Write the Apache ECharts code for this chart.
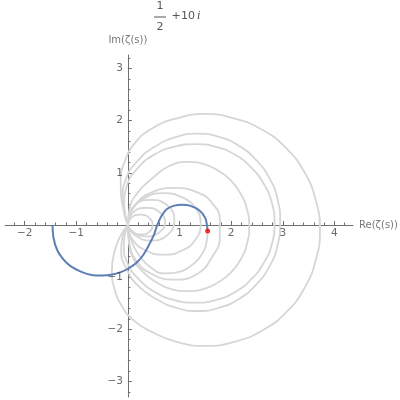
<!DOCTYPE html>
<html><head><meta charset="utf-8">
<script src="https://cdn.jsdelivr.net/npm/echarts@6/dist/echarts.min.js"></script>
<style>html,body{margin:0;padding:0;background:#fff}#c{width:400px;height:400px}</style>
</head><body><div id="c"></div>
<script>
// Blue path: zeta(1/2 + i t), t from 0 to 10
const bluePath = [[-1.46,0],[-1.44,-0.25],[-1.37,-0.48],[-1.25,-0.66],[-1.11,-0.79],[-0.9,-0.9],[-0.7,-0.96],[-0.5,-0.97],[-0.3,-0.95],[-0.1,-0.89],[0,-0.84],[0.15,-0.74],[0.28,-0.6],[0.4,-0.4],[0.5,-0.2],[0.57,0],[0.65,0.17],[0.75,0.3],[0.9,0.37],[1.05,0.39],[1.2,0.37],[1.37,0.29],[1.5,0.13],[1.544,-0.115]];
const endPoint = [[1.544,-0.115]];
// Gray loops (rest of the critical-line curve)
const loopTail = [[1.544,-0.115],[1.52,-0.35],[1.42,-0.58],[1.24,-0.77],[1.0,-0.9],[0.72,-0.93],[0.45,-0.82],[0.22,-0.58],[0.07,-0.3],[0,0]];
const loopA = [[0,0],[-0.07,0.25],[-0.13,0.55],[-0.14,0.88],[-0.06,1.22],[0.12,1.55],[0.45,1.84],[0.93,2.04],[1.5,2.13],[2.07,2.04],[2.61,1.82],[3.07,1.47],[3.42,1.01],[3.64,0.47],[3.72,-0.1],[3.64,-0.67],[3.42,-1.21],[3.07,-1.67],[2.61,-2.02],[2.07,-2.24],[1.5,-2.32],[0.93,-2.24],[0.42,-2.03],[0.1,-1.82],[-0.12,-1.55],[-0.26,-1.22],[-0.31,-0.88],[-0.27,-0.55],[-0.16,-0.24],[0,0]];
const loopB = [[0,0],[-0.07,0.22],[-0.1,0.52],[-0.04,0.88],[0.18,1.22],[0.52,1.5],[0.94,1.69],[1.35,1.75],[1.76,1.69],[2.15,1.52],[2.48,1.25],[2.74,0.9],[2.9,0.49],[2.95,0.05],[2.9,-0.39],[2.74,-0.8],[2.48,-1.15],[2.15,-1.42],[1.76,-1.59],[1.35,-1.65],[0.94,-1.59],[0.55,-1.42],[0.2,-1.17],[-0.02,-0.85],[-0.13,-0.5],[-0.1,-0.2],[0,0]];
const loopC = [[0,0],[-0.07,0.38],[-0.02,0.75],[0.2,1.1],[0.53,1.36],[0.9,1.5],[1.3,1.55],[1.7,1.5],[2.07,1.35],[2.39,1.1],[2.63,0.79],[2.79,0.42],[2.84,0.03],[2.79,-0.36],[2.63,-0.73],[2.39,-1.04],[2.07,-1.29],[1.7,-1.44],[1.3,-1.49],[0.9,-1.44],[0.53,-1.29],[0.21,-1.04],[-0.01,-0.73],[-0.08,-0.38],[0,0]];
const loopD = [[0,0],[0.03,0.3],[0.19,0.62],[0.48,0.9],[0.8,1.13],[1.15,1.21],[1.46,1.17],[1.75,1.04],[2.0,0.85],[2.19,0.59],[2.31,0.29],[2.35,-0.03],[2.31,-0.35],[2.19,-0.65],[2.0,-0.91],[1.75,-1.1],[1.46,-1.23],[1.15,-1.27],[0.84,-1.23],[0.55,-1.1],[0.3,-0.91],[0.11,-0.65],[0.02,-0.33],[0,0]];
const loopE = [[0,0],[0.03,0.2],[0.16,0.41],[0.45,0.62],[0.9,0.71],[1.355,0.62],[1.64,0.41],[1.78,0.1],[1.78,-0.25],[1.64,-0.6],[1.355,-0.93],[0.9,-1.05],[0.445,-0.93],[0.16,-0.68],[0.03,-0.35],[0,0]];
const loopS1 = [[0,0],[0.09,0.3],[0.35,0.53],[0.7,0.61],[1.05,0.53],[1.31,0.32],[1.41,0.02],[1.31,-0.28],[1.05,-0.49],[0.7,-0.57],[0.35,-0.49],[0.09,-0.28],[0,0]];
const loopS2 = [[0,0],[0.13,0.37],[0.45,0.48],[0.77,0.37],[0.9,0.09],[0.77,-0.19],[0.45,-0.3],[0.13,-0.19],[0,0]];
const loopS3 = [[0,0],[0.11,0.25],[0.36,0.33],[0.61,0.25],[0.72,0.055],[0.61,-0.14],[0.36,-0.22],[0.11,-0.14],[0,0]];
const loopS4 = [[0,0],[0.08,0.15],[0.25,0.2],[0.42,0.13],[0.48,0.0],[0.42,-0.13],[0.25,-0.18],[0.08,-0.12],[0,0]];
const grayLoops = [loopTail, loopA, loopB, loopC, loopD, loopE, loopS1, loopS2, loopS3, loopS4];

// Tick values / labels
const xMajor = [-2,-1,1,2,3,4];
const yMajor = [-3,-2,-1,1,2,3];
const xMinor = []; for (let k=-11;k<=21;k++){ if (k%5!==0) xMinor.push(+(k*0.2).toFixed(1)); }
const yMinor = []; for (let k=-16;k<=16;k++){ if (k%5!==0) yMinor.push(+(k*0.2).toFixed(1)); }

const XMIN=-2.38, XMAX=4.36, YMIN=-3.3, YMAX=3.26;
const axisCol = '#6e6e6e';
const fmt = v => (v<0 ? '\u2212'+Math.abs(v) : ''+v);
const lblStyle = {color:'#444', fontSize:10.5, fontFamily:'DejaVu Sans'};

const chart = echarts.init(document.getElementById('c'), null, {renderer:'canvas'});
const series = grayLoops.map(d => ({type:'line', data:d, smooth:0.5, symbol:'none', xAxisIndex:0, yAxisIndex:0,
  lineStyle:{color:'#d6d6d6', width:1.8}, z:2, silent:true}));
series.push({type:'line', data:bluePath, smooth:0.3, symbol:'none', lineStyle:{color:'#5d7fb5', width:2}, z:4});
series.push({type:'scatter', data:endPoint, symbolSize:5, itemStyle:{color:'#ff0000'}, z:5});
// tick labels placed through the axes' scales
series.push({type:'scatter', data:xMajor.map(v=>[v,0]), symbolSize:0, silent:true, z:6,
  label:{show:true, position:'bottom', distance:3, formatter:p=>fmt(p.value[0]), ...lblStyle}});
series.push({type:'scatter', data:yMajor.map(v=>[0,v]), symbolSize:0, silent:true, z:6,
  label:{show:true, position:'left', distance:5, formatter:p=>fmt(p.value[1]), ...lblStyle}});

chart.setOption({
  animation:false,
  grid:{left:5, right:47, top:55, bottom:3, containLabel:false, outerBoundsMode:'none'},
  xAxis:[{type:'value', min:XMIN, max:XMAX, position:'bottom',
      axisLine:{onZero:true, onZeroAxisIndex:0, lineStyle:{color:axisCol, width:1}},
      axisTick:{show:true, inside:true, length:4, customValues:xMajor, lineStyle:{color:axisCol}},
      axisLabel:{show:false},
      splitLine:{show:false},
      name:'Re(\u03b6(s))', nameLocation:'end', nameGap:6,
      nameTextStyle:{color:'#777', fontSize:10, fontFamily:'DejaVu Sans'}},
    {type:'value', min:XMIN, max:XMAX, position:'bottom',
      axisLine:{show:false, onZero:true, onZeroAxisIndex:0},
      axisTick:{show:true, inside:true, length:2.5, customValues:xMinor, lineStyle:{color:axisCol}},
      axisLabel:{show:false}, splitLine:{show:false}}],
  yAxis:[{type:'value', min:YMIN, max:YMAX, position:'left',
      axisLine:{onZero:true, onZeroAxisIndex:0, lineStyle:{color:axisCol, width:1}},
      axisTick:{show:true, inside:true, length:4, customValues:yMajor, lineStyle:{color:axisCol}},
      axisLabel:{show:false},
      splitLine:{show:false},
      name:'Im(\u03b6(s))', nameLocation:'end', nameGap:10,
      nameTextStyle:{color:'#777', fontSize:10, fontFamily:'DejaVu Sans', align:'center'}},
    {type:'value', min:YMIN, max:YMAX, position:'left',
      axisLine:{show:false, onZero:true, onZeroAxisIndex:0},
      axisTick:{show:true, inside:true, length:2.5, customValues:yMinor, lineStyle:{color:axisCol}},
      axisLabel:{show:false}, splitLine:{show:false}}],
  graphic:[
    {type:'text', x:160, y:6, style:{text:'1', fill:'#555', font:'11px DejaVu Sans', align:'center', verticalAlign:'middle'}},
    {type:'line', shape:{x1:154, y1:17, x2:166, y2:17}, style:{stroke:'#555', lineWidth:1}},
    {type:'text', x:160, y:27.5, style:{text:'2', fill:'#555', font:'11px DejaVu Sans', align:'center', verticalAlign:'middle'}},
    {type:'text', x:176, y:16.5, style:{text:'+', fill:'#555', font:'11px DejaVu Sans', align:'center', verticalAlign:'middle'}},
    {type:'text', x:181, y:16.5, style:{text:'10', fill:'#555', font:'11px DejaVu Sans', verticalAlign:'middle'}},
    {type:'text', x:197, y:16.5, style:{text:'i', fill:'#555', font:'italic 11px DejaVu Serif', verticalAlign:'middle'}}
  ],
  series: series
});
</script></body></html>
